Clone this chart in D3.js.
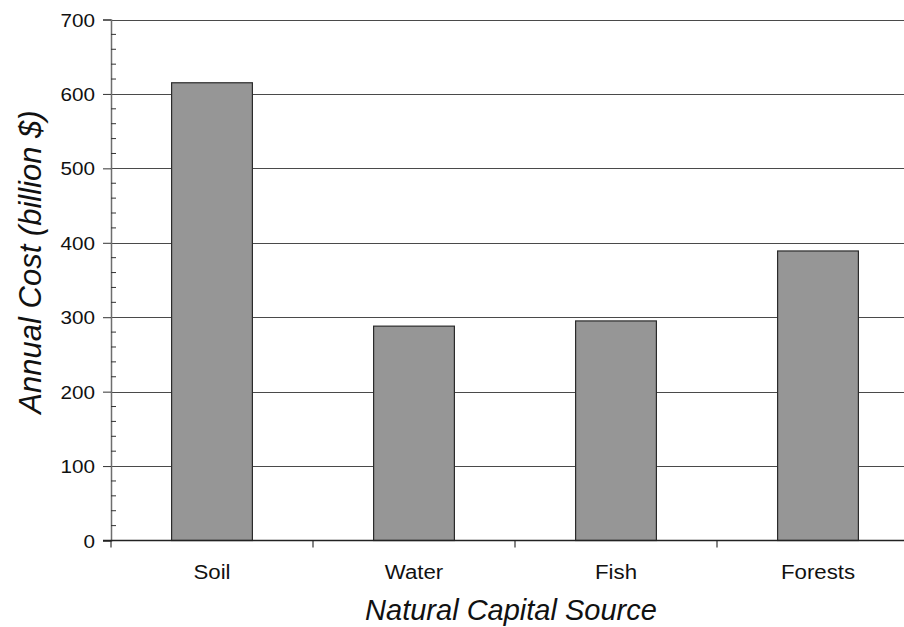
<!DOCTYPE html>
<html>
<head>
<meta charset="utf-8">
<script src="https://cdn.jsdelivr.net/npm/d3@7/dist/d3.min.js"></script>
<style>
  html, body { margin: 0; padding: 0; background: #fff; }
  svg { display: block; font-family: "Liberation Sans", Arial, sans-serif; }
</style>
</head>
<body>
<svg id="chart" width="904" height="627"></svg>
<script>
const categories = ["Soil", "Water", "Fish", "Forests"];
const values = [615, 288, 295, 389];
const yTicks = [0, 100, 200, 300, 400, 500, 600, 700];
const yMinorTicks = d3.range(0, 701, 20).filter(v => v % 100 !== 0);
const yTitle = "Annual Cost (billion $)";
const xTitle = "Natural Capital Source";

const svg = d3.select("#chart");
const mLeft = 111, mRight = 919, mTop = 19.5, mBottom = 540.5;

const x = d3.scaleBand().domain(categories).range([mLeft, mRight]).paddingInner(0).paddingOuter(0);
const y = d3.scaleLinear().domain([0, 700]).range([mBottom, mTop]);

// gridlines
svg.append("g").selectAll("line").data(yTicks.filter(d => d > 0)).join("line")
  .attr("x1", mLeft).attr("x2", mRight)
  .attr("y1", d => Math.round(y(d)) + 0.5).attr("y2", d => Math.round(y(d)) + 0.5)
  .attr("stroke", "#4a4a4a").attr("stroke-width", 1.2);

// bars
const bw = x.bandwidth() * 0.4;
svg.append("g").selectAll("rect").data(categories).join("rect")
  .attr("x", d => x(d) + x.bandwidth() / 2 - bw / 2)
  .attr("width", bw)
  .attr("y", (d, i) => y(values[i]))
  .attr("height", (d, i) => y(0) - y(values[i]))
  .attr("fill", "#969696").attr("stroke", "#2b2b2b").attr("stroke-width", 1.2);

// y axis
const yAxis = d3.axisLeft(y).tickValues(yTicks).tickSize(8).tickPadding(0).tickFormat(d3.format("d"));
const gy = svg.append("g").attr("transform", `translate(${mLeft},0)`).call(yAxis);
gy.select(".domain").attr("stroke", "#6e6e6e").attr("stroke-width", 1.5);
gy.selectAll(".tick line").attr("stroke", "#333");
gy.selectAll(".tick text")
  .attr("x", null).attr("dy", null)
  .attr("transform", "translate(-16,6.5) scale(1.15,1)")
  .attr("font-size", 18).attr("fill", "#111");

// minor ticks (inside)
svg.append("g").selectAll("line").data(yMinorTicks).join("line")
  .attr("x1", mLeft).attr("x2", mLeft + 5)
  .attr("y1", d => y(d)).attr("y2", d => y(d))
  .attr("stroke", "#333").attr("stroke-width", 1);

// x axis
const xTickScale = d3.scaleLinear().domain([0, categories.length]).range([mLeft, mRight]);
svg.append("g").selectAll("line").data(d3.range(0, categories.length + 1)).join("line")
  .attr("x1", d => xTickScale(d)).attr("x2", d => xTickScale(d))
  .attr("y1", mBottom).attr("y2", mBottom + 7)
  .attr("stroke", "#333").attr("stroke-width", 1.2);
svg.append("line").attr("x1", mLeft - 8).attr("x2", mRight).attr("y1", mBottom).attr("y2", mBottom)
  .attr("stroke", "#222").attr("stroke-width", 1.4);

svg.append("g").selectAll("text").data(categories).join("text")
  .attr("transform", d => `translate(${x(d) + x.bandwidth() / 2},579) scale(1.06,1)`)
  .attr("text-anchor", "middle").attr("font-size", 21).attr("fill", "#111")
  .text(d => d);

// titles
svg.append("text").attr("transform", "translate(41,262) rotate(-90)")
  .attr("text-anchor", "middle").attr("font-size", 31).attr("font-style", "italic").attr("fill", "#111")
  .text(yTitle);
svg.append("text").attr("x", 511).attr("y", 620)
  .attr("text-anchor", "middle").attr("font-size", 29).attr("font-style", "italic").attr("fill", "#111")
  .text(xTitle);
</script>
</body>
</html>
